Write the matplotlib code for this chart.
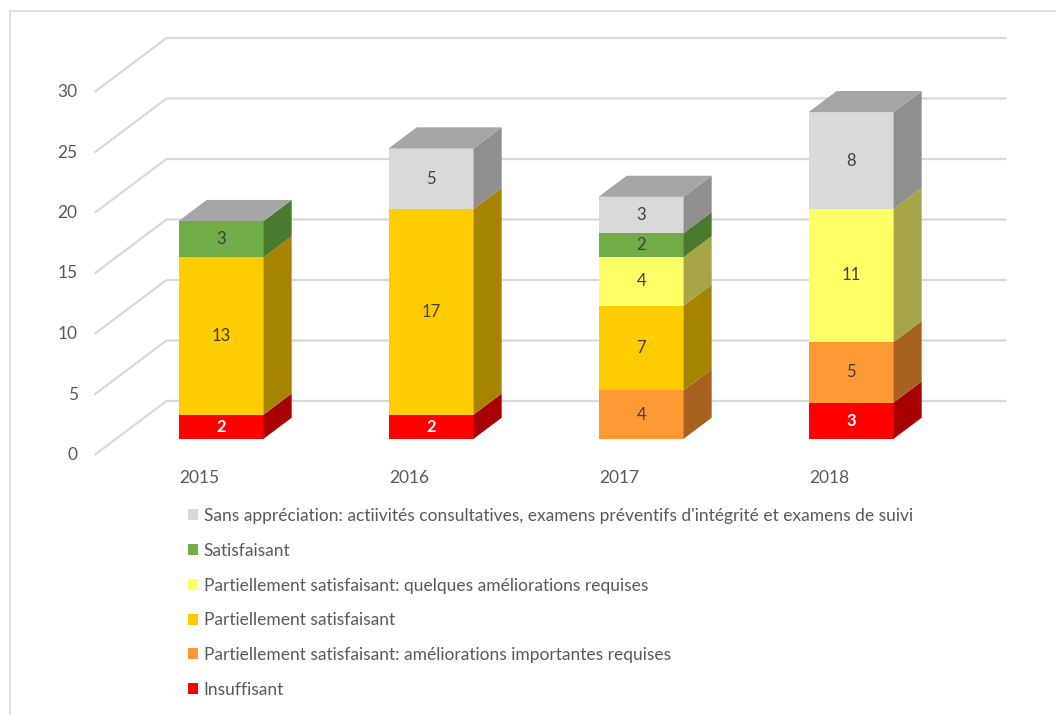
import matplotlib
matplotlib.use("Agg")
import matplotlib.pyplot as plt
from matplotlib.patches import Polygon, Rectangle
from matplotlib.lines import Line2D

plt.rcParams['font.family'] = ['Lato', 'DejaVu Sans']

# --- données ---
years = ["2015", "2016", "2017", "2018"]
series_names = [
    "Insuffisant",
    "Partiellement satisfaisant: améliorations importantes requises",
    "Partiellement satisfaisant",
    "Partiellement satisfaisant: quelques améliorations requises",
    "Satisfaisant",
    "Sans appréciation: actiivités consultatives, examens préventifs d'intégrité et examens de suivi",
]
insuffisant = [2, 2, 0, 3]
ameliorations_importantes = [0, 0, 4, 5]
partiellement = [13, 17, 7, 0]
quelques_ameliorations = [0, 0, 4, 11]
satisfaisant = [3, 0, 2, 0]
sans_appreciation = [0, 5, 3, 8]
series = [insuffisant, ameliorations_importantes, partiellement,
          quelques_ameliorations, satisfaisant, sans_appreciation]
y_ticks = [0, 5, 10, 15, 20, 25, 30]

# couleurs: face avant, face latérale
front_colors = ["#FF0000", "#FF9933", "#FFCC00", "#FFFF66", "#70AD47", "#D9D9D9"]
side_colors = ["#A80000", "#A8611F", "#A68400", "#A6A648", "#4A7A2E", "#8F8F8F"]
top_color = "#A6A6A6"
label_colors = ["white", "#404040", "#404040", "#404040", "#404040", "#404040"]
label_weights = ["bold", "normal", "normal", "normal", "normal", "normal"]

# --- géométrie (pixels -> unités) ---
W, H = 1056, 715
X0, XSTEP = 199.5, 210.0      # centre catégorie 0 (profondeur 0), pas
Y0, YUNIT = 455.0, 12.1       # zéro (profondeur 0), pixels par unité
DX = 72.0 / XSTEP             # décalage profondeur complète (x)
DY = 54.0 / YUNIT             # décalage profondeur complète (y)
D_FRONT, D_BACK = 0.30, 0.69
BAR_W = 85.0 / XSTEP

fig = plt.figure(figsize=(W / 100, H / 100), dpi=100)
ax = fig.add_axes([0, 0, 1, 1])
ax.set_xlim(-X0 / XSTEP, (W - X0) / XSTEP)
ax.set_ylim((Y0 - H) / YUNIT, Y0 / YUNIT)
ax.axis("off")

grid_col = "#D9D9D9"
x_left, x_right = -0.5, len(years) - 0.5
for t in y_ticks:
    ax.plot([x_left, x_left + DX, x_right + DX], [t, t + DY, t + DY],
            color=grid_col, lw=1.6, zorder=1, solid_capstyle="butt")
    ax.text(x_left - 0.08, t, str(t), ha="right", va="center",
            fontsize=12.5, color="#595959")


def pt(x, y, d):
    return (x + d * DX, y + d * DY)


for i, year in enumerate(years):
    xl = i - BAR_W / 2
    xr = i + BAR_W / 2
    base = 0
    for k, vals in enumerate(series):
        v = vals[i]
        if v == 0:
            continue
        top = base + v
        front = Polygon([pt(xl, base, D_FRONT), pt(xr, base, D_FRONT),
                         pt(xr, top, D_FRONT), pt(xl, top, D_FRONT)],
                        closed=True, facecolor=front_colors[k], edgecolor="none", zorder=3)
        side = Polygon([pt(xr, base, D_FRONT), pt(xr, base, D_BACK),
                        pt(xr, top, D_BACK), pt(xr, top, D_FRONT)],
                       closed=True, facecolor=side_colors[k], edgecolor="none", zorder=3)
        ax.add_patch(front)
        ax.add_patch(side)
        cx, cy = pt(i, base + v / 2, D_FRONT)
        ax.text(cx, cy, str(v), ha="center", va="center", fontsize=12,
                color=label_colors[k], fontweight=label_weights[k], zorder=5)
        base = top
    total = base
    topface = Polygon([pt(xl, total, D_FRONT), pt(xr, total, D_FRONT),
                       pt(xr, total, D_BACK), pt(xl, total, D_BACK)],
                      closed=True, facecolor=top_color, edgecolor="none", zorder=3)
    ax.add_patch(topface)
    ax.text(i, (Y0 - 478) / YUNIT, year, ha="center", va="center",
            fontsize=12.5, color="#595959")

# légende (ordre inverse)
handles = [Rectangle((0, 0), 1, 1, facecolor=front_colors[k], edgecolor="none")
           for k in range(len(series) - 1, -1, -1)]
labels = [series_names[k] for k in range(len(series) - 1, -1, -1)]
fig.legend(handles, labels, loc="upper left",
           bbox_to_anchor=(188 / W, 1 - 508 / H), frameon=False,
           fontsize=12.5, labelcolor="#595959", handlelength=0.6,
           handleheight=0.6, handletextpad=0.3, labelspacing=1.08,
           borderaxespad=0, borderpad=0)

# bordure du graphique
fig.add_artist(Line2D([10 / W, 10 / W], [0, 1 - 11 / H], color="#D9D9D9", lw=1.2,
                      transform=fig.transFigure))
fig.add_artist(Line2D([10 / W, 1], [1 - 11 / H, 1 - 11 / H], color="#D9D9D9", lw=1.2,
                      transform=fig.transFigure))

fig.savefig("out.png", dpi=100)
